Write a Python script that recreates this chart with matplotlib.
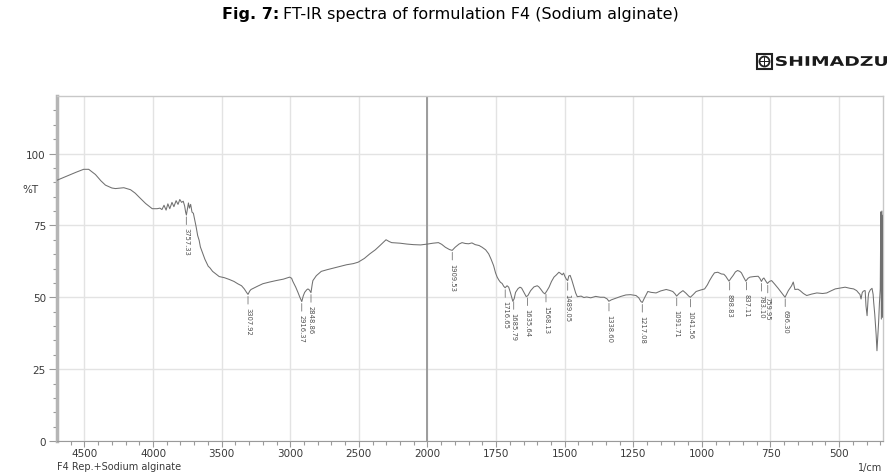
import numpy as np
import matplotlib
matplotlib.use('Agg')
import matplotlib.pyplot as plt
from matplotlib.ticker import FixedLocator
from matplotlib.patches import PathPatch, Rectangle, Circle
from matplotlib.textpath import TextPath
from matplotlib.font_manager import FontProperties
from matplotlib.transforms import Affine2D

# Spectrum (wavenumber in 1/cm, transmittance in %T)
wavenumber = [
    4700, 4640, 4560, 4506, 4469, 4420, 4380, 4347, 4300, 4274, 4213, 4164, 4130, 4103,
    4054, 4006, 3970, 3950, 3935, 3920, 3905, 3892, 3878, 3862, 3848, 3832, 3818, 3805,
    3792, 3780, 3770, 3762, 3757, 3750, 3742, 3735, 3726, 3716, 3706, 3696, 3686, 3675,
    3664, 3655, 3645, 3635, 3622, 3610, 3598, 3585, 3566, 3540, 3518, 3480, 3445, 3410,
    3383, 3355, 3335, 3320, 3308, 3295, 3286, 3240, 3200, 3150, 3103, 3050, 3005, 2990,
    2981, 2960, 2944, 2930, 2916, 2905, 2895, 2880, 2871, 2860, 2849, 2840, 2835, 2810,
    2774, 2730, 2688, 2640, 2590, 2540, 2505, 2460, 2420, 2380, 2346, 2320, 2302, 2280,
    2261, 2230, 2200, 2150, 2102, 2050, 2000, 1980, 1960, 1948, 1935, 1920, 1910, 1899,
    1885, 1874, 1862, 1850, 1838, 1826, 1812, 1801, 1788, 1777, 1768, 1759, 1752, 1746,
    1740, 1734, 1728, 1722, 1717, 1710, 1704, 1698, 1693, 1689, 1684, 1679, 1670, 1663,
    1657, 1652, 1646, 1640, 1634, 1624, 1612, 1600, 1594, 1588, 1578, 1572, 1565, 1557,
    1548, 1539, 1530, 1521, 1515, 1509, 1504, 1499, 1494, 1489, 1485, 1480, 1474, 1466,
    1460, 1454, 1440, 1430, 1420, 1405, 1387, 1370, 1356, 1345, 1339, 1330, 1313, 1295,
    1277, 1260, 1240, 1230, 1222, 1217, 1210, 1197, 1185, 1167, 1150, 1130, 1118, 1106,
    1098, 1092, 1082, 1069, 1058, 1048, 1042, 1032, 1021, 1005, 990, 980, 972, 962,
    954, 942, 929, 920, 913, 907, 901, 894, 886, 878, 870, 862, 856, 848,
    840, 832, 825, 810, 795, 789, 783, 778, 774, 767, 761, 754, 746, 735,
    722, 710, 697, 690, 685, 673, 667, 663, 661, 650, 642, 630, 618, 600,
    581, 560, 545, 530, 514, 495, 478, 460, 447, 436, 429, 424, 420, 416,
    413, 408, 405, 402, 398, 394, 392, 386, 380, 376, 374, 370, 368, 365,
    362, 358, 356, 353, 350, 348, 346, 344, 342, 340,
]
transmittance = [
    90.7, 91.9, 93.5, 94.5, 94.5, 92.7, 90.5, 89.0, 88.0, 87.8, 88.1, 87.4, 86.2, 84.9,
    82.6, 80.8, 80.8, 81.0, 80.5, 82.0, 80.3, 82.5, 80.8, 83.0, 81.5, 83.6, 82.3, 84.0,
    83.0, 83.4, 81.8, 79.5, 78.6, 80.6, 82.8, 81.0, 82.3, 79.6, 79.2, 76.8, 74.5, 71.5,
    69.8, 67.5, 66.2, 64.8, 63.2, 62.0, 60.8, 60.2, 59.0, 58.0, 57.2, 56.8, 56.2, 55.5,
    54.7, 54.0, 52.9, 51.8, 51.0, 52.2, 52.7, 53.8, 54.7, 55.3, 55.8, 56.3, 57.0, 56.6,
    55.5, 53.5, 51.7, 50.0, 48.5, 50.5, 51.7, 52.6, 52.9, 52.5, 51.6, 54.5, 55.8, 57.5,
    59.0, 59.6, 60.1, 60.7, 61.3, 61.7, 62.2, 63.5, 65.1, 66.5, 68.0, 69.2, 70.0, 69.4,
    69.0, 68.9, 68.8, 68.5, 68.3, 68.2, 68.5, 68.8, 69.0, 68.4, 67.4, 66.6, 66.3, 67.4,
    68.5, 69.0, 68.7, 68.6, 68.9, 68.3, 68.0, 67.4, 66.5, 65.1, 63.2, 61.0, 58.5, 57.0,
    56.0, 55.2, 54.8, 53.8, 53.3, 54.0, 53.5, 51.7, 50.0, 48.6, 49.5, 51.7, 53.0, 53.5,
    53.2, 52.3, 51.2, 50.2, 50.6, 52.3, 53.6, 54.0, 53.6, 52.9, 51.6, 51.2, 52.2, 53.5,
    55.5, 57.0, 57.8, 58.7, 58.3, 57.8, 58.4, 57.2, 56.3, 55.8, 57.4, 57.6, 56.0, 53.5,
    51.5, 50.2, 50.4, 49.9, 50.1, 49.8, 50.3, 50.0, 50.0, 49.4, 48.6, 49.1, 49.7, 50.3,
    50.8, 50.9, 50.6, 49.8, 48.5, 48.2, 49.6, 52.0, 51.7, 51.5, 52.2, 52.7, 52.4, 52.0,
    51.2, 50.4, 51.4, 52.3, 51.4, 50.4, 50.0, 50.9, 52.0, 52.5, 52.9, 54.3, 55.8, 57.4,
    58.5, 58.7, 58.1, 58.0, 57.3, 56.4, 55.6, 56.6, 57.6, 58.8, 59.3, 59.0, 58.5, 57.0,
    55.6, 56.6, 57.0, 57.2, 57.3, 56.6, 55.5, 56.4, 56.7, 55.6, 54.8, 55.5, 55.8, 54.6,
    53.1, 51.6, 50.0, 51.3, 52.3, 54.0, 55.3, 53.5, 52.7, 52.8, 52.3, 51.3, 50.6, 51.1,
    51.5, 51.3, 51.5, 52.2, 52.9, 53.2, 53.5, 53.1, 52.9, 52.3, 51.5, 51.0, 49.4, 51.5,
    52.0, 52.3, 52.3, 47.0, 43.6, 50.0, 51.5, 52.6, 53.1, 51.0, 48.3, 44.0, 41.3, 37.0,
    31.4, 38.0, 41.3, 48.0, 52.9, 79.7, 42.4, 80.0, 43.0, 78.5,
]

# Peak picks printed under the trace
peak_labels = ['3757.33', '3307.92', '2916.37', '2848.86', '1909.53', '1716.65',
               '1685.79', '1635.64', '1568.13', '1489.05', '1338.60', '1217.08',
               '1091.71', '1041.56', '898.83', '837.11', '783.10', '759.95', '696.30']

x_major = [4500, 4000, 3500, 3000, 2500, 2000, 1750, 1500, 1250, 1000, 750, 500]
y_major = [0, 25, 50, 75, 100]


# wavenumber axis is compressed 2x above 2000 1/cm (Shimadzu style)
def fwd(x):
    x = np.asarray(x, dtype=float)
    return np.where(x > 2000, 2000 + (x - 2000) / 2.0, x)


def inv(u):
    u = np.asarray(u, dtype=float)
    return np.where(u > 2000, 2000 + (u - 2000) * 2.0, u)


W, H = 893, 477
fig = plt.figure(figsize=(W / 100, H / 100), dpi=100)
ax = fig.add_axes([57 / W, 1 - 442 / H, (883 - 57) / W, (442 - 97) / H])

ax.set_xscale('function', functions=(fwd, inv))
ax.set_xlim(4700, 340)
ax.set_ylim(0, 120)

grid_c = '#e3e3e3'
axis_c = '#9a9a9a'
text_c = '#3a3a3a'

ax.xaxis.set_major_locator(FixedLocator(x_major))
minor_x = [v for v in range(4600, 2000, -100) if v not in x_major] + \
          [v for v in range(1950, 340, -50) if v not in x_major]
ax.xaxis.set_minor_locator(FixedLocator(minor_x))
ax.yaxis.set_major_locator(FixedLocator(y_major))
ax.yaxis.set_minor_locator(FixedLocator([v for v in range(5, 120, 5) if v not in y_major]))

ax.grid(True, which='major', color=grid_c, lw=1.0)
ax.set_axisbelow(True)
ax.tick_params(axis='y', which='major', length=6, width=0.8, color=axis_c, labelsize=7.5,
               labelcolor=text_c, pad=2)
ax.tick_params(axis='x', which='major', length=4, width=0.8, color=axis_c, labelsize=7.5,
               labelcolor=text_c, pad=1)
ax.tick_params(which='minor', length=3, width=0.8, color=axis_c)

for side in ['top', 'right']:
    ax.spines[side].set_color('#c8c8c8')
    ax.spines[side].set_linewidth(1.0)
ax.spines['bottom'].set_color(axis_c)
ax.spines['left'].set_color('#b5b5b5')
ax.spines['left'].set_linewidth(2.5)

# break line at 2000
ax.axvline(2000, color='#9c9c9c', lw=1.4, zorder=1)

ax.plot(wavenumber, transmittance, color='#707070', lw=0.75, zorder=3)

# peak annotations
wn_asc = np.array(wavenumber[::-1], dtype=float)
t_asc = np.array(transmittance[::-1], dtype=float)
for lab in peak_labels:
    x = float(lab)
    y = np.interp(x, wn_asc, t_asc)
    ax.annotate(lab, xy=(x, y), xytext=(0, -9), textcoords='offset points',
                rotation=-90, ha='center', va='top', fontsize=4.9, color='#505050',
                arrowprops=dict(arrowstyle='-', color='#777777', lw=0.6,
                                shrinkA=0, shrinkB=1.5), zorder=4)

fig.text(22 / W, 1 - 190 / H, '%T', fontsize=7.5, color=text_c, ha='left', va='center')
fig.text(57 / W, 1 - 467 / H, 'F4 Rep.+Sodium alginate', fontsize=7, color=text_c,
         ha='left', va='center')
fig.text(882 / W, 1 - 468 / H, '1/cm', fontsize=7, color=text_c,
         ha='right', va='center')

# title with bold prefix
t1 = fig.text(222 / W, 1 - 15 / H, 'Fig. 7:', fontsize=11.5, fontweight='bold',
              color='black', ha='left', va='center')
fig.canvas.draw()
bb = t1.get_window_extent()
fig.text((bb.x1 + 4) / W, 1 - 15 / H, 'FT-IR spectra of formulation F4 (Sodium alginate)',
         fontsize=11.5, color='black', ha='left', va='center')

# SHIMADZU logo, drawn in pixel coordinates
logo_y0 = H - 70
fig.add_artist(Rectangle((757, logo_y0), 15, 15, transform=Affine2D(),
                         facecolor='white', edgecolor='#222222', lw=1.5))
fig.add_artist(Circle((764.5, logo_y0 + 7.5), 5, transform=Affine2D(),
                      facecolor='none', edgecolor='#222222', lw=1.3))
fig.add_artist(Rectangle((759.5, logo_y0 + 7.0), 10, 1.2, transform=Affine2D(),
                         facecolor='#222222', lw=0))
fig.add_artist(Rectangle((763.9, logo_y0 + 2.5), 1.2, 10, transform=Affine2D(),
                         facecolor='#222222', lw=0))
tp = TextPath((0, 0), 'SHIMADZU', size=1, prop=FontProperties(family='DejaVu Sans', weight='bold'))
ext = tp.get_extents()
sx = 111 / ext.width
sy = 10 / ext.height
tr = Affine2D().translate(-ext.x0, -ext.y0).scale(sx, sy).translate(776, H - 67)
fig.add_artist(PathPatch(tp, transform=tr, facecolor='#1a1a1a', edgecolor='none'))

fig.savefig('out.png', dpi=100)
